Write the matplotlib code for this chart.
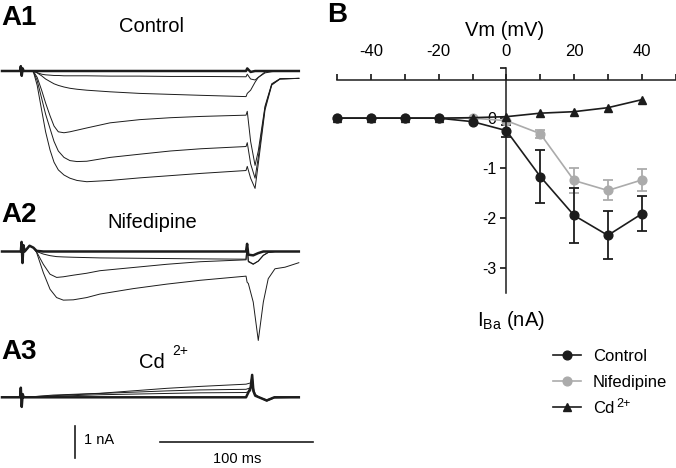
import numpy as np
import matplotlib
matplotlib.use("Agg")
import matplotlib.pyplot as plt

plt.rcParams['font.family'] = 'Liberation Sans'
plt.rcParams['mathtext.fontset'] = 'custom'
plt.rcParams['mathtext.rm'] = 'Liberation Sans'
plt.rcParams['mathtext.it'] = 'Liberation Sans:italic'
plt.rcParams['axes.unicode_minus'] = False

#______ PANEL B: I-V DATA (mV, nA) ______
vm = [-50, -40, -30, -20, -10, 0, 10, 20, 30, 40]
ctrl = [0, 0, 0, 0, -0.07, -0.25, -1.17, -1.95, -2.35, -1.92]
ctrl_err = [0, 0, 0, 0, 0, 0.12, 0.53, 0.55, 0.48, 0.35]
nif = [0, 0, 0, 0, 0, -0.05, -0.31, -1.25, -1.45, -1.24]
nif_err = [0, 0, 0, 0, 0, 0, 0.08, 0.26, 0.2, 0.22]
cd = [0, 0, 0, 0, 0.01, 0.03, 0.1, 0.13, 0.21, 0.37]
leg_labels = ['Control', 'Nifedipine', 'Cd']

#______ PANEL A: CURRENT TRACES (ms, nA) ______
t_a1 = [0, 11.8, 12.3, 12.9, 13.5, 14.2, 20.5, 23, 25.9, 28.5, 31.4, 34, 36.8, 40.5, 44.4, 49,
        55.4, 70.6, 90, 110, 130, 159.5, 160.3, 162.5, 165.4, 167.5, 171.9, 176.3, 181.7, 194]
a1_base = [0, 0, 0.15, -0.15, 0.08, 0, 0, 0, 0, 0, 0, 0, 0, 0, 0, 0,
           0, 0, 0, 0, 0, 0, 0.08, -0.03, 0, 0, 0, 0, 0, 0]
a1_traces = [
    [0, 0, 0.15, -0.15, 0.08, 0, 0, -0.05, -0.1, -0.12, -0.13, -0.14, -0.14, -0.15, -0.15, -0.15,
     -0.15, -0.16, -0.16, -0.17, -0.17, -0.18, -0.1, -0.25, -0.28, -0.2, -0.03, 0, 0, 0],
    [0, 0, 0.15, -0.15, 0.08, 0, 0, -0.06, -0.15, -0.25, -0.33, -0.4, -0.45, -0.5, -0.54, -0.57,
     -0.6, -0.65, -0.7, -0.73, -0.76, -0.8, -0.7, -0.6, -0.35, -0.2, -0.06, -0.02, 0, 0],
    [0, 0, 0.15, -0.15, 0.08, 0, -0.01, -0.2, -0.6, -1.0, -1.4, -1.72, -1.9, -1.93, -1.9, -1.85,
     -1.78, -1.62, -1.52, -1.46, -1.42, -1.38, -1.26, -2.2, -2.95, -2.5, -1.1, -0.4, -0.24, -0.23],
    [0, 0, 0.15, -0.15, 0.08, 0, -0.02, -0.3, -0.85, -1.35, -1.8, -2.2, -2.5, -2.7, -2.8, -2.83,
     -2.82, -2.7, -2.6, -2.5, -2.43, -2.36, -2.24, -2.9, -3.35, -2.7, -1.15, -0.42, -0.25, -0.23],
    [0, 0, 0.15, -0.15, 0.08, 0, -0.02, -0.45, -1.22, -1.9, -2.47, -2.85, -3.09, -3.25, -3.35, -3.42,
     -3.46, -3.42, -3.34, -3.27, -3.2, -3.11, -2.98, -3.35, -3.67, -2.9, -1.22, -0.44, -0.25, -0.23],
]

t_a2 = [0, 12.3, 12.8, 13.4, 14.0, 14.8, 18, 20.5, 22.6, 27, 31.4, 35.7, 40.1, 46.6, 55.3,
        64, 85.8, 107.6, 129.4, 159.5, 160.2, 161, 164.2, 167.5, 170.8, 174, 178.4, 185, 194]
a2_base = [0, 0, 0.3, -0.36, 0.2, 0, 0.18, 0.12, 0.02, 0, 0, 0, 0, 0, 0,
           0, 0, 0, 0, 0, 0.24, -0.1, -0.12, -0.05, 0, 0, 0, 0, 0]
a2_traces = [
    [0, 0, 0.3, -0.36, 0.2, 0, 0.18, 0.12, 0.0, -0.08, -0.13, -0.16, -0.17, -0.18, -0.19,
     -0.2, -0.21, -0.22, -0.23, -0.24, 0.2, -0.3, -0.39, -0.3, -0.12, -0.03, 0, 0, 0],
    [0, 0, 0.3, -0.36, 0.2, 0, 0.18, 0.12, -0.01, -0.4, -0.71, -0.81, -0.79, -0.74, -0.68,
     -0.6, -0.5, -0.4, -0.32, -0.26, 0.2, -0.32, -0.4, -0.3, -0.12, -0.03, 0, 0, 0],
    [0, 0, 0.3, -0.36, 0.2, 0, 0.18, 0.12, -0.03, -0.66, -1.18, -1.44, -1.52, -1.51, -1.44,
     -1.33, -1.16, -1.02, -0.9, -0.77, -0.96, -1.0, -1.58, -2.78, -1.58, -0.85, -0.54, -0.49, -0.35],
]

t_a3 = [0, 11.8, 12.3, 12.9, 13.5, 14.2, 20.5, 33.5, 64, 107.6, 129.4, 159.5, 162.5, 163.5,
        164.3, 165.5, 168, 173, 178, 194]
a3_base = [0, 0, 0.3, -0.3, 0.1, 0, 0, 0, 0, 0, 0, 0, 0.3, 0.7, 0.2, 0.05, 0, -0.1, 0, 0]
a3_traces = [
    [0, 0, 0.3, -0.3, 0.1, 0, 0.02, 0.07, 0.125, 0.28, 0.34, 0.41, 0.45, 0.7, 0.3, 0.1, 0, -0.12, -0.02, 0],
    [0, 0, 0.3, -0.3, 0.1, 0, 0.02, 0.05, 0.12, 0.2, 0.23, 0.25, 0.3, 0.6, 0.2, 0.05, 0, -0.1, 0, 0],
    [0, 0, 0.3, -0.3, 0.1, 0, 0.0, 0.03, 0.08, 0.12, 0.14, 0.15, 0.2, 0.5, 0.15, 0.05, 0, -0.08, 0, 0],
]

scale_nA = 1
scale_ms = 100

W, H = 676, 468
BLACK = '#1c1c1c'
GREY = '#ababab'


def px(x, y):
    return x / W, 1 - y / H


def main():
    fig = plt.figure(figsize=(W / 100, H / 100), dpi=100)

    #______ traces ______
    axA = fig.add_axes([0, 0, 320 / W, 1])
    axA.set_xlim(-2 / 1.53, 318 / 1.53)
    axA.set_ylim(-H / 32, 0)
    axA.axis('off')

    panels = [(t_a1, a1_base, a1_traces, -71 / 32),
              (t_a2, a2_base, a2_traces, -251.5 / 32),
              (t_a3, a3_base, a3_traces, -397.3 / 32)]
    for t, base, traces, off in panels:
        axA.plot(t, off + np.array(base), color=BLACK, lw=1.8, solid_joinstyle='round')
        for tr in traces:
            axA.plot(t, off + np.array(tr), color=BLACK, lw=0.7)

    # scale bars
    x0, y0 = 73 / 1.53, -426 / 32
    axA.plot([x0, x0], [y0, y0 - scale_nA], color=BLACK, lw=1.2)
    xs, ys = 158 / 1.53, -441.7 / 32
    axA.plot([xs, xs + scale_ms], [ys, ys], color=BLACK, lw=1.2)
    fig.text(*px(84, 440), '1 nA', ha='left', va='center', fontsize=10.5)
    fig.text(*px(237, 459), '100 ms', ha='center', va='center', fontsize=10.5)

    # panel titles
    for lab, (x, y) in [('A1', (19, 18)), ('A2', (19, 215)), ('A3', (19, 352)), ('B', (337, 15))]:
        fig.text(*px(x, y), lab, ha='center', va='center', fontsize=20, fontweight='bold')
    fig.text(*px(152, 27), 'Control', ha='center', va='center', fontsize=14.5)
    fig.text(*px(152, 222), 'Nifedipine', ha='center', va='center', fontsize=14.5)
    fig.text(*px(152, 362), 'Cd', ha='center', va='center', fontsize=14.5)
    fig.text(*px(172, 351), '2+', ha='left', va='center', fontsize=10)

    #______ I-V ______
    axB = fig.add_axes([337.3 / W, 1 - 292.7 / H, 338.2 / W, 224.4 / H])
    axB.set_xlim(-50, 50)
    axB.set_ylim(-3.5, 1.0)
    axB.spines['right'].set_visible(False)
    axB.spines['bottom'].set_visible(False)
    axB.spines['left'].set_position(('data', 0))
    axB.spines['top'].set_position(('data', 0.77))
    for s in ['left', 'top']:
        axB.spines[s].set_linewidth(1.1)
        axB.spines[s].set_color(BLACK)
    axB.xaxis.set_ticks_position('top')
    axB.set_xticks(range(-50, 51, 10))
    axB.set_xticklabels(['', '-40', '', '-20', '', '0', '', '20', '', '40', ''])
    axB.set_yticks([1, 0, -1, -2, -3])
    axB.set_yticklabels(['', '0', '-1', '-2', '-3'])
    axB.tick_params(axis='x', direction='out', length=4, width=1.1, pad=11, labelsize=12)
    axB.tick_params(axis='y', direction='out', length=4, width=1.1, pad=3, labelsize=11.5)
    axB.patch.set_visible(False)

    vm_a = np.array(vm)
    for y, e, c in [(nif, nif_err, GREY), (ctrl, ctrl_err, BLACK)]:
        y = np.array(y)
        e = np.array(e)
        m = e > 0
        axB.errorbar(vm_a[m], y[m], yerr=e[m], fmt='none', ecolor=c, elinewidth=1.3,
                     capsize=3.6, capthick=1.3, clip_on=False)
    h_nif, = axB.plot(vm, nif, color=GREY, lw=1.2, marker='o', ms=6.3, clip_on=False)
    h_ctrl, = axB.plot(vm, ctrl, color=BLACK, lw=1.2, marker='o', ms=6.3, clip_on=False)
    h_cd, = axB.plot(vm, cd, color=BLACK, lw=1.2, marker='^', ms=5.8, clip_on=False)

    fig.text(*px(505, 30), 'Vm (mV)', ha='center', va='center', fontsize=14.5)
    fig.text(*px(511, 320), r'I$_{\mathrm{Ba}}$ (nA)', ha='center', va='center', fontsize=14.5)

    leg = fig.legend([h_ctrl, h_nif, h_cd], leg_labels, loc='upper left',
                     bbox_to_anchor=px(553, 349), frameon=False, fontsize=12,
                     handlelength=1.7, handletextpad=0.7, labelspacing=0.65,
                     borderpad=0, borderaxespad=0)

    # superscript after the Cd legend entry
    fig.canvas.draw()
    bb = leg.get_texts()[2].get_window_extent()
    yc = (bb.y0 + bb.y1) / 2
    fig.text((bb.x1 + 2) / W, (yc + 4) / H, '2+', ha='left', va='center', fontsize=9)

    fig.savefig('out.png', dpi=100)
    return 0


if __name__ == '__main__':
    main()
